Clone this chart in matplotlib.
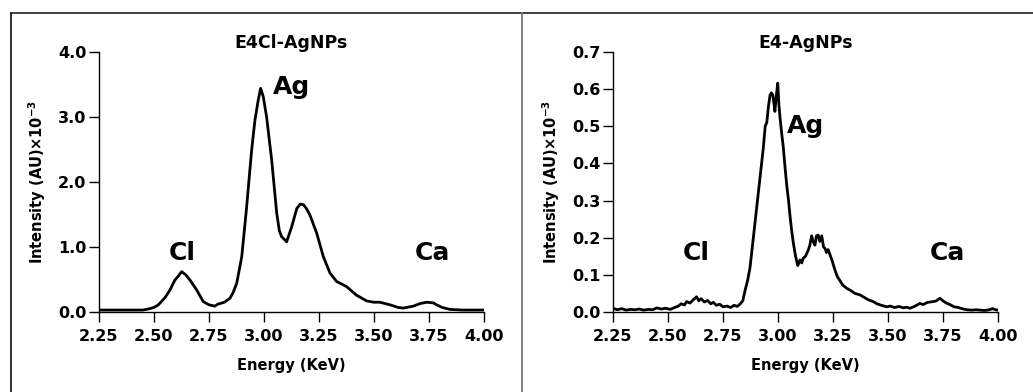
import numpy as np
import matplotlib
matplotlib.use('Agg')
import matplotlib.pyplot as plt
from matplotlib.lines import Line2D
from matplotlib.ticker import FormatStrFormatter

plt.rcParams['font.family'] = ['DejaVu Sans']
plt.rcParams['font.weight'] = 'bold'

# E4Cl-AgNPs spectrum (energy KeV, intensity AU x10^-3)
e4cl_energy = [2.25, 2.30, 2.35, 2.40, 2.45, 2.48, 2.50, 2.52, 2.55, 2.573, 2.595, 2.61,
               2.626, 2.645, 2.664, 2.694, 2.724, 2.75, 2.777, 2.79, 2.80, 2.82, 2.845,
               2.86, 2.876, 2.899, 2.92, 2.944, 2.959, 2.974, 2.985, 2.997, 3.012, 3.035,
               3.058, 3.07, 3.08, 3.103, 3.126, 3.149, 3.165, 3.18, 3.195, 3.209, 3.24,
               3.27, 3.30, 3.33, 3.376, 3.42, 3.467, 3.50, 3.527, 3.573, 3.61, 3.633,
               3.679, 3.71, 3.74, 3.77, 3.785, 3.81, 3.845, 3.90, 3.95, 4.00]
e4cl_intensity = [0.03, 0.03, 0.03, 0.03, 0.03, 0.05, 0.07, 0.11, 0.22, 0.34, 0.49, 0.55,
                  0.62, 0.57, 0.49, 0.34, 0.16, 0.11, 0.09, 0.12, 0.13, 0.15, 0.21,
                  0.30, 0.44, 0.85, 1.57, 2.49, 2.95, 3.26, 3.44, 3.31, 3.00, 2.34,
                  1.52, 1.25, 1.16, 1.08, 1.31, 1.59, 1.66, 1.65, 1.58, 1.49, 1.21,
                  0.85, 0.60, 0.47, 0.39, 0.26, 0.17, 0.15, 0.15, 0.11, 0.07, 0.06,
                  0.09, 0.13, 0.15, 0.14, 0.11, 0.07, 0.04, 0.03, 0.03, 0.03]

# E4-AgNPs spectrum
e4_energy = [2.25, 2.27, 2.29, 2.31, 2.33, 2.35, 2.37, 2.39, 2.41, 2.43, 2.45, 2.47, 2.49,
             2.51, 2.53, 2.547, 2.56, 2.575, 2.585, 2.60, 2.615, 2.63, 2.64, 2.65, 2.665,
             2.68, 2.695, 2.706, 2.72, 2.735, 2.75, 2.767, 2.785, 2.80, 2.815, 2.827, 2.84,
             2.85, 2.862, 2.873, 2.888, 2.903, 2.918, 2.933, 2.942, 2.949, 2.957, 2.964,
             2.970, 2.976, 2.982, 2.986, 2.992, 2.999, 3.004, 3.009, 3.017, 3.024, 3.032,
             3.04, 3.048, 3.055, 3.062, 3.07, 3.08, 3.09, 3.10, 3.108, 3.115, 3.125, 3.138,
             3.145, 3.153, 3.16, 3.168, 3.175, 3.183, 3.19, 3.199, 3.207, 3.215, 3.22,
             3.228, 3.236, 3.245, 3.259, 3.27, 3.28, 3.295, 3.312, 3.33, 3.35, 3.373, 3.39,
             3.41, 3.433, 3.45, 3.47, 3.494, 3.51, 3.53, 3.55, 3.57, 3.585, 3.60, 3.62,
             3.645, 3.66, 3.68, 3.706, 3.72, 3.736, 3.75, 3.765, 3.782, 3.80, 3.82, 3.842,
             3.86, 3.88, 3.90, 3.92, 3.94, 3.96, 3.975, 3.99, 4.00]
e4_intensity = [0.010, 0.006, 0.009, 0.005, 0.007, 0.006, 0.008, 0.005, 0.007, 0.006, 0.011,
                0.008, 0.010, 0.007, 0.012, 0.016, 0.022, 0.019, 0.028, 0.024, 0.033, 0.041,
                0.030, 0.036, 0.027, 0.031, 0.022, 0.026, 0.018, 0.021, 0.014, 0.016, 0.012,
                0.018, 0.015, 0.021, 0.030, 0.057, 0.085, 0.120, 0.200, 0.280, 0.360, 0.440,
                0.500, 0.510, 0.555, 0.584, 0.590, 0.585, 0.560, 0.540, 0.580, 0.616, 0.560,
                0.525, 0.480, 0.445, 0.390, 0.340, 0.300, 0.257, 0.220, 0.185, 0.150, 0.125,
                0.140, 0.132, 0.145, 0.150, 0.167, 0.180, 0.205, 0.190, 0.180, 0.205, 0.207,
                0.190, 0.205, 0.175, 0.170, 0.160, 0.168, 0.155, 0.140, 0.113, 0.095, 0.086,
                0.072, 0.064, 0.058, 0.050, 0.046, 0.040, 0.033, 0.028, 0.022, 0.018, 0.014,
                0.016, 0.012, 0.015, 0.011, 0.013, 0.010, 0.015, 0.023, 0.020, 0.026, 0.028,
                0.030, 0.037, 0.030, 0.024, 0.020, 0.014, 0.012, 0.008, 0.006, 0.005, 0.006,
                0.005, 0.004, 0.006, 0.009, 0.006, 0.005]

titles = ['E4Cl-AgNPs', 'E4-AgNPs']
ylims = [4.0, 0.7]
yticks = [np.arange(0, 4.01, 1.0), np.arange(0, 0.701, 0.1)]
xticks = [2.25, 2.50, 2.75, 3.00, 3.25, 3.50, 3.75, 4.00]
peak_labels = [
    [('Cl', 2.627, 0.91), ('Ag', 3.127, 3.46), ('Ca', 3.764, 0.91)],
    [('Cl', 2.627, 0.159), ('Ag', 3.127, 0.50), ('Ca', 3.768, 0.159)],
]
series = [(e4cl_energy, e4cl_intensity), (e4_energy, e4_intensity)]

fig = plt.figure(figsize=(10.33, 3.92), dpi=100)
lefts = [0.0958, 0.5934]

for i in range(2):
    ax = fig.add_axes([lefts[i], 0.2041, 0.3727, 0.6633])
    x, y = series[i]
    ax.plot(x, y, color='black', lw=2.0)
    ax.set_xlim(2.25, 4.0)
    ax.set_ylim(0, ylims[i])
    ax.set_xticks(xticks)
    ax.set_yticks(yticks[i])
    ax.xaxis.set_major_formatter(FormatStrFormatter('%.2f'))
    ax.yaxis.set_major_formatter(FormatStrFormatter('%.1f'))
    for s in ['top', 'right']:
        ax.spines[s].set_visible(False)
    for s in ['left', 'bottom']:
        ax.spines[s].set_linewidth(1.0)
    ax.tick_params(axis='x', direction='out', length=7, width=1.0, labelsize=11.5, pad=5)
    ax.tick_params(axis='y', direction='out', length=7.5, width=1.0, labelsize=11.5, pad=1.5)
    for lab in ax.get_xticklabels() + ax.get_yticklabels():
        lab.set_fontweight('bold')
    ax.set_xlabel('Energy (KeV)', fontsize=10.5, fontweight='bold', labelpad=10)
    ax.set_ylabel('Intensity (AU)×10$^{-3}$', fontsize=10.5, fontweight='bold', labelpad=7)
    ax.set_title(titles[i], fontsize=12.5, fontweight='bold', pad=-1)
    for txt, px, py in peak_labels[i]:
        ax.text(px, py, txt, fontsize=18, fontweight='bold', ha='center', va='center')

# panel frame lines
fig.add_artist(Line2D([0.0106, 1.0], [0.9668, 0.9668], color='#333333', lw=1.3))
fig.add_artist(Line2D([0.0106, 0.0106], [0.0, 0.9668], color='#222222', lw=1.3))
fig.add_artist(Line2D([0.5053, 0.5053], [0.0, 0.9668], color='#777777', lw=1.3))

fig.savefig('out.png', dpi=100)
